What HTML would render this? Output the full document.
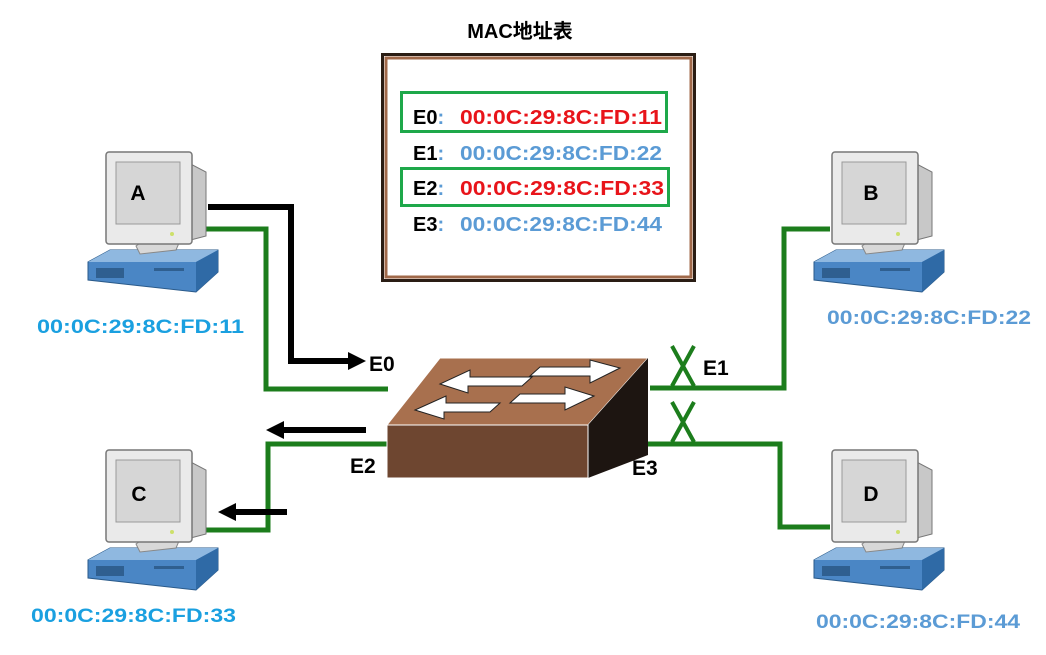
<!DOCTYPE html>
<html><head><meta charset="utf-8"><style>
html,body{margin:0;padding:0;background:#fff}
svg{display:block}
text{font-family:"Liberation Sans","Noto Sans CJK SC",sans-serif;font-weight:bold}
</style></head><body>
<svg width="1046" height="655" viewBox="0 0 1046 655" xmlns="http://www.w3.org/2000/svg">
<defs>
<g id="pc">
  <polygon points="0,112 22,100 130,100 130,122 108,142 0,130" fill="#4a86c5" stroke="#2a5a8a" stroke-width="1"/>
  <polygon points="0,112 22,100 130,100 108,112" fill="#8fb8e0"/>
  <polygon points="108,112 130,100 130,122 108,142" fill="#2f6aa6"/>
  <rect x="8" y="118" width="28" height="10" fill="#2f5f90"/>
  <rect x="66" y="118" width="30" height="3" fill="#2f5f90"/>
  <polygon points="48,96 62,86 94,86 88,100 52,104" fill="#d8d8d8" stroke="#888" stroke-width="1"/>
  <polygon points="95,10 118,22 118,86 95,92" fill="#c8c8c8" stroke="#777" stroke-width="1"/>
  <rect x="18" y="2" width="86" height="92" rx="3" fill="#eaeaea" stroke="#777" stroke-width="1.5"/>
  <rect x="28" y="12" width="64" height="62" fill="#d6d6d6" stroke="#999"/>
  <circle cx="84" cy="84" r="2" fill="#cde06a"/>
</g>
</defs>

<text x="520" y="38" font-size="20" text-anchor="middle" fill="#000">MAC地址表</text>
<rect x="382.5" y="54.5" width="312" height="226" fill="#fff" stroke="#2a1d14" stroke-width="3"/>
<rect x="386" y="58" width="305" height="219" fill="none" stroke="#a0694a" stroke-width="3"/>
<rect x="401.5" y="92.5" width="265" height="39" fill="none" stroke="#1ea84a" stroke-width="3"/>
<rect x="401.5" y="168.5" width="267" height="37" fill="none" stroke="#1ea84a" stroke-width="3"/>
<g font-size="20">
  <text x="413" y="124" fill="#000">E0<tspan fill="#5b9bd5">:</tspan></text>
  <text x="460" y="124" fill="#e8141a" textLength="202" lengthAdjust="spacingAndGlyphs">00:0C:29:8C:FD:11</text>
  <text x="413" y="160" fill="#000">E1<tspan fill="#5b9bd5">:</tspan></text>
  <text x="460" y="160" fill="#5b9bd5" textLength="202" lengthAdjust="spacingAndGlyphs">00:0C:29:8C:FD:22</text>
  <text x="413" y="195" fill="#000">E2<tspan fill="#5b9bd5">:</tspan></text>
  <text x="460" y="195" fill="#e8141a" textLength="204" lengthAdjust="spacingAndGlyphs">00:0C:29:8C:FD:33</text>
  <text x="413" y="231" fill="#000">E3<tspan fill="#5b9bd5">:</tspan></text>
  <text x="460" y="231" fill="#5b9bd5" textLength="202" lengthAdjust="spacingAndGlyphs">00:0C:29:8C:FD:44</text>
</g>

<g fill="none" stroke="#1c7d1c" stroke-width="5">
  <polyline points="200,229 266,229 266,389 388,389"/>
  <polyline points="388,444 268,444 268,530 200,530"/>
  <polyline points="650,388 784,388 784,229 830,229"/>
  <polyline points="600,444 780,444 780,527 830,527"/>
</g>
<g fill="none" stroke="#1c7d1c" stroke-width="4">
  <path d="M672,346 L694,386 M694,346 L672,386"/>
  <path d="M672,402 L694,442 M694,402 L672,442"/>
</g>
<g fill="none" stroke="#000" stroke-width="6">
  <polyline points="208,207 291,207 291,361 350,361"/>
  <line x1="366" y1="430" x2="282" y2="430"/>
  <line x1="287" y1="512" x2="232" y2="512"/>
</g>
<polygon points="348,352 366,361 348,370" fill="#000"/>
<polygon points="284,421 266,430 284,439" fill="#000"/>
<polygon points="236,503 218,512 236,521" fill="#000"/>

<polygon points="387,425 440,358 648,358 588,425" fill="#a8704e" stroke="#fff" stroke-width="1"/>
<polygon points="588,425 648,358 648,455 588,478" fill="#1d1511"/>
<rect x="387" y="425" width="201" height="53" fill="#6e4630" stroke="#fff" stroke-width="1"/>
<g fill="#fff" stroke="#222" stroke-width="1">
  <polygon points="440,384 470,370 470,377 532,377 522,386 468,386 468,393"/>
  <polygon points="415,410 446,396 446,403 500,403 490,412 444,412 444,419"/>
  <polygon points="620,368 590,383 590,376 530,376 540,367 590,367 590,360"/>
  <polygon points="594,396 565,410 565,403 510,403 520,394 565,394 565,387"/>
</g>

<g font-size="21" fill="#000">
  <text x="369" y="371">E0</text>
  <text x="703" y="375">E1</text>
  <text x="350" y="473">E2</text>
  <text x="632" y="475">E3</text>
</g>

<use href="#pc" x="88" y="150"/>
<use href="#pc" x="814" y="150"/>
<use href="#pc" x="88" y="448"/>
<use href="#pc" x="814" y="448"/>
<g font-size="21" fill="#000" text-anchor="middle">
  <text x="138" y="200">A</text>
  <text x="871" y="200">B</text>
  <text x="139" y="501">C</text>
  <text x="871" y="501">D</text>
</g>
<g font-size="19">
  <text x="37" y="333" fill="#1aa0e0" textLength="207" lengthAdjust="spacingAndGlyphs">00:0C:29:8C:FD:11</text>
  <text x="827" y="324" fill="#5b9bd5" textLength="204" lengthAdjust="spacingAndGlyphs">00:0C:29:8C:FD:22</text>
  <text x="31" y="622" fill="#1aa0e0" textLength="205" lengthAdjust="spacingAndGlyphs">00:0C:29:8C:FD:33</text>
  <text x="816" y="628" fill="#5b9bd5" textLength="204" lengthAdjust="spacingAndGlyphs">00:0C:29:8C:FD:44</text>
</g>
</svg>
</body></html>
